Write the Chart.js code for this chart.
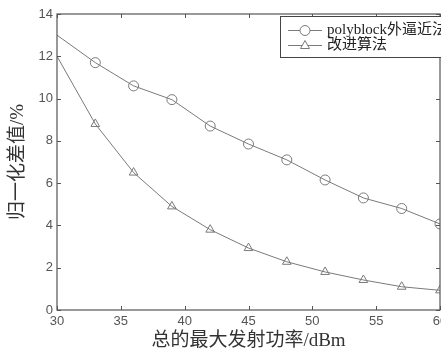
<!DOCTYPE html>
<html>
<head>
<meta charset="utf-8">
<script src="https://cdn.jsdelivr.net/npm/chart.js@4.4.0/dist/chart.umd.min.js"></script>
<style>
  html, body { margin: 0; padding: 0; background: #fff; overflow: hidden; }
  #wrap { position: relative; width: 470px; height: 352px; }
</style>
</head>
<body>
<div id="wrap"><canvas id="grafico"></canvas></div>
<script>
// datos
const potencias = [30, 33, 36, 39, 42, 45, 48, 51, 54, 57, 60];
const polyblock = [13.0, 11.7, 10.6, 9.95, 8.7, 7.85, 7.1, 6.15, 5.3, 4.8, 4.07];
const mejorado = [12.0, 8.8, 6.5, 4.9, 3.8, 2.93, 2.28, 1.8, 1.42, 1.1, 0.93];
const nombres = ['polyblock外逼近法', '改进算法'];
const xTicks = [30, 35, 40, 45, 50, 55, 60];
const yTicks = [0, 2, 4, 6, 8, 10, 12, 14];

const gris = '#7a7a7a';
const marco = '#555';

function puntos(valores) {
  return potencias.map((p, i) => ({ x: p, y: valores[i] }));
}
// sin marcador en el primer punto
const radios = potencias.map((p, i) => i === 0 ? 0 : 5);

// marco con marcas hacia adentro y leyenda dibujada a mano
const marcoPlugin = {
  id: 'marco',
  afterDraw(chart) {
    const { ctx, chartArea: a, scales } = chart;
    ctx.save();
    ctx.strokeStyle = marco;
    ctx.lineWidth = 1.2;
    ctx.strokeRect(a.left, a.top, a.right - a.left, a.bottom - a.top);
    ctx.lineWidth = 1;
    ctx.beginPath();
    xTicks.forEach(v => {
      const px = Math.round(scales.x.getPixelForValue(v)) + 0.5;
      ctx.moveTo(px, a.bottom); ctx.lineTo(px, a.bottom - 4);
      ctx.moveTo(px, a.top); ctx.lineTo(px, a.top + 4);
    });
    yTicks.forEach(v => {
      const py = Math.round(scales.y.getPixelForValue(v)) + 0.5;
      ctx.moveTo(a.left, py); ctx.lineTo(a.left + 4, py);
      ctx.moveTo(a.right, py); ctx.lineTo(a.right - 4, py);
    });
    ctx.stroke();

    // leyenda
    const lx = 280, ly = 16, lw = 175, lh = 41;
    ctx.fillStyle = '#fff';
    ctx.fillRect(lx, ly, lw, lh);
    ctx.strokeStyle = '#444';
    ctx.strokeRect(lx + 0.5, ly + 0.5, lw, lh);
    const filas = [30.5, 45.5];
    chart.data.datasets.forEach((ds, i) => {
      const y = filas[i];
      ctx.strokeStyle = gris;
      ctx.beginPath();
      ctx.moveTo(288, y); ctx.lineTo(322, y);
      ctx.stroke();
      ctx.beginPath();
      if (ds.pointStyle === 'circle') {
        ctx.arc(305, y, 5, 0, Math.PI * 2);
      } else {
        ctx.moveTo(305, y - 5); ctx.lineTo(309.5, y + 3); ctx.lineTo(300.5, y + 3); ctx.closePath();
      }
      ctx.fillStyle = '#fff';
      ctx.fill();
      ctx.stroke();
      ctx.fillStyle = '#222';
      ctx.font = '15px "Liberation Serif", "Noto Sans CJK SC", serif';
      ctx.textBaseline = 'middle';
      ctx.textAlign = 'left';
      ctx.fillText(ds.label, 327, y);
    });
    ctx.restore();
  }
};

new Chart(document.getElementById('grafico').getContext('2d'), {
  type: 'line',
  data: {
    datasets: [{
      label: nombres[0],
      data: puntos(polyblock),
      borderColor: gris,
      borderWidth: 1,
      backgroundColor: 'rgba(255,255,255,0)',
      pointStyle: 'circle',
      pointRadius: radios,
      pointBorderColor: gris,
      pointBorderWidth: 1,
      tension: 0
    }, {
      label: nombres[1],
      data: puntos(mejorado),
      borderColor: gris,
      borderWidth: 1,
      backgroundColor: 'rgba(255,255,255,0)',
      pointStyle: 'triangle',
      pointRadius: radios,
      pointBorderColor: gris,
      pointBorderWidth: 1,
      tension: 0
    }]
  },
  options: {
    responsive: true,
    maintainAspectRatio: false,
    animation: false,
    layout: { padding: { left: 0, top: 14, right: 30, bottom: 0 } },
    plugins: {
      legend: { display: false },
      tooltip: { enabled: false }
    },
    scales: {
      x: {
        type: 'linear',
        min: 30,
        max: 60,
        afterBuildTicks: s => { s.ticks = xTicks.map(v => ({ value: v })); },
        afterFit: s => { s.height = 42; },
        grid: { display: false, drawTicks: false },
        border: { display: false },
        ticks: { color: '#555', padding: 4, font: { family: '"Liberation Sans", Arial, sans-serif', size: 13 } },
        title: {
          display: true,
          text: '总的最大发射功率/dBm',
          color: '#333',
          padding: { top: 0, bottom: 0 },
          font: { family: '"Liberation Serif", "Noto Sans CJK SC", serif', size: 19 }
        }
      },
      y: {
        min: 0,
        max: 14,
        afterBuildTicks: s => { s.ticks = yTicks.map(v => ({ value: v })); },
        afterFit: s => { s.width = 57; },
        grid: { display: false, drawTicks: false },
        border: { display: false },
        ticks: { color: '#555', padding: 4, font: { family: '"Liberation Sans", Arial, sans-serif', size: 13 } },
        title: {
          display: true,
          text: '归一化差值/%',
          color: '#333',
          padding: { top: 7, bottom: 0 },
          font: { family: '"Liberation Serif", "Noto Sans CJK SC", serif', size: 19 }
        }
      }
    }
  },
  plugins: [marcoPlugin]
});
</script>
</body>
</html>
